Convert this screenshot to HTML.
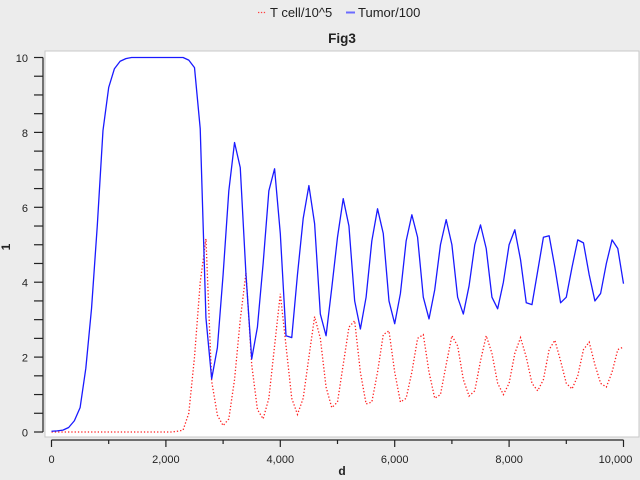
<!DOCTYPE html>
<html><head><meta charset="utf-8"><style>
html,body{margin:0;padding:0;background:#ececec;}
svg{display:block;font-family:"Liberation Sans",sans-serif;}
</style></head><body>
<svg id="chart" width="640" height="480" viewBox="0 0 640 480" xmlns="http://www.w3.org/2000/svg">
<rect x="0" y="0" width="640" height="480" fill="#ececec"/>
<rect x="45" y="51" width="594" height="386" fill="#ffffff" stroke="#c8c8c8" stroke-width="1"/>
<g>
<g>
<line x1="258" y1="12.5" x2="266" y2="12.5" stroke="#ff4040" stroke-width="1.3" stroke-dasharray="1.3,1.6"/>
<text x="270" y="17" font-size="13" fill="#222">T cell/10^5</text>
</g>
<g>
<line x1="346" y1="12.5" x2="355" y2="12.5" stroke="#6b6bff" stroke-width="2"/>
<text x="358" y="17" font-size="13" fill="#222">Tumor/100</text>
</g>
</g>
<text x="342" y="43" font-size="13.5" font-weight="bold" text-anchor="middle" fill="#222">Fig3</text>
<g id="yaxis"></g>
<g id="xaxis"></g>
<text x="10" y="247" font-size="12" font-weight="bold" text-anchor="middle" fill="#222" transform="rotate(-90 10 247)">1</text>
<text x="342" y="475" font-size="12" font-weight="bold" text-anchor="middle" fill="#222">d</text>
<g id="series"></g>
</svg>
<script>
const step = 100;
const tumor = [0.02,0.03,0.05,0.12,0.3,0.65,1.7,3.3,5.5,8.05,9.2,9.7,9.9,9.97,10,10,10,10,10,10,10,10,10,10,9.93,9.73,8.1,3.05,1.42,2.25,4.2,6.44,7.73,7.06,4.2,1.95,2.8,4.5,6.44,7.03,5.3,2.57,2.52,4.2,5.7,6.58,5.56,3.15,2.57,3.85,5.2,6.23,5.5,3.5,2.75,3.6,5.1,5.96,5.3,3.5,2.89,3.7,5.1,5.8,5.2,3.6,3.02,3.8,5.0,5.67,5.0,3.6,3.15,3.9,5.0,5.53,4.9,3.6,3.29,4.0,5.0,5.4,4.6,3.45,3.4,4.3,5.2,5.24,4.4,3.45,3.6,4.4,5.13,5.05,4.2,3.5,3.7,4.5,5.13,4.9,3.96];
const tcell = [0,0,0,0,0,0,0,0,0,0,0,0,0,0,0,0,0,0,0,0,0,0,0.02,0.05,0.5,2.0,4.0,5.16,1.36,0.45,0.17,0.35,1.4,3.0,4.25,1.8,0.6,0.35,0.9,2.3,3.69,2.3,0.9,0.47,0.9,2.0,3.08,2.5,1.2,0.65,0.8,1.8,2.8,2.97,1.6,0.75,0.8,1.6,2.6,2.7,1.6,0.8,0.9,1.6,2.5,2.6,1.6,0.9,1.0,1.8,2.57,2.3,1.4,0.96,1.1,1.9,2.57,2.1,1.3,1.0,1.3,2.1,2.52,2.0,1.3,1.1,1.4,2.2,2.45,1.9,1.3,1.15,1.5,2.2,2.4,1.8,1.3,1.2,1.6,2.2,2.27];
const xTickLabels = ["0","2,000","4,000","6,000","8,000","10,000"];
const yTickLabels = ["0","2","4","6","8","10"];

const NS = "http://www.w3.org/2000/svg";
const X0 = 51.5, X1 = 623.5, Y0 = 432, Y1 = 57.5;
function xs(v){ return X0 + (v/10000)*(X1-X0); }
function ys(v){ return Y0 - (v/10)*(Y0-Y1); }
function mk(tag, attrs, parent){ const e=document.createElementNS(NS,tag); for(const k in attrs) e.setAttribute(k,attrs[k]); parent.appendChild(e); return e; }

const ya = document.getElementById('yaxis');
const yl = mk('line',{x1:43,y1:ys(10),x2:43,y2:ys(0),stroke:'#222','stroke-width':1.2},ya);


for(let i=0;i<=20;i++){
  const v=i*0.5;
  const t=mk('line',{x1:34,y1:ys(v),x2:43,y2:ys(v),stroke:'#222','stroke-width':1.2},ya);
  
  
}
yTickLabels.forEach((s,i)=>{
  const t=mk('text',{x:28,y:ys(i*2)+4.5,'font-size':11,'text-anchor':'end',fill:'#222'},ya);
  t.textContent=s;
  
  
});

const xa = document.getElementById('xaxis');
const xl = mk('line',{x1:xs(0),y1:440,x2:xs(10000),y2:440,stroke:'#222','stroke-width':1.2},xa);


for(let i=0;i<=10;i++){
  const v=i*1000;
  const t=mk('line',{x1:xs(v),y1:440,x2:xs(v),y2:(i%2==0)?447:444,stroke:'#222','stroke-width':1.2},xa);
  
  
}
xTickLabels.forEach((s,i)=>{
  const t=mk('text',{x:xs(i*2000)+(i==5?-8:0),y:463,'font-size':11,'text-anchor':'middle',fill:'#222'},xa);
  t.textContent=s;
  
  
});

const sg = document.getElementById('series');
function pts(arr){ return arr.map((v,i)=>xs(i*step).toFixed(2)+','+ys(v).toFixed(2)).join(' '); }
const tl = mk('polyline',{points:pts(tcell),fill:'none',stroke:'#ff2020','stroke-width':1.3,'stroke-dasharray':'1.3,2'},sg);


const bl = mk('polyline',{points:pts(tumor),fill:'none',stroke:'#1a1aff','stroke-width':1.3,'stroke-linejoin':'round'},sg);


</script>
</body></html>
